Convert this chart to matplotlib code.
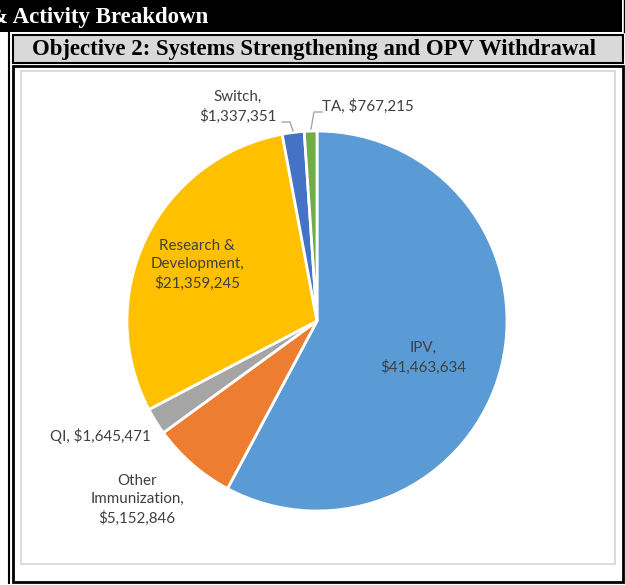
import matplotlib
matplotlib.use("Agg")
import matplotlib.pyplot as plt
from matplotlib.patches import Rectangle

# data
categories = ["IPV", "Other\nImmunization", "QI", "Research &\nDevelopment", "Switch", "TA"]
values = [41463634, 5152846, 1645471, 21359245, 1337351, 767215]
colors = ["#5B9BD5", "#ED7D31", "#A5A5A5", "#FFC000", "#4472C4", "#70AD47"]
header_text = "& Activity Breakdown"
title_text = "Objective 2: Systems Strengthening and OPV Withdrawal"

W, H = 625, 585
fig = plt.figure(figsize=(W / 100, H / 100), dpi=100)

# background / table frame in pixel coords
bg = fig.add_axes([0, 0, 1, 1])
bg.set_xlim(0, W)
bg.set_ylim(H, 0)
bg.axis("off")

bg.add_patch(Rectangle((0, 0), 622, 32, fc="black", ec="none"))
bg.plot([624, 624], [0, 32], color="black", lw=1)
bg.text(208, 17, header_text, color="white", ha="right", va="center",
        family="Liberation Serif", weight="bold", fontsize=16.5)

# double line on left of the table
bg.plot([8.5, 8.5], [32, 583], color="black", lw=1.5)
bg.add_patch(Rectangle((12.5, 34.5), 610, 28.5, fc="#D9D9D9", ec="black", lw=1.5))
bg.text(314, 49, title_text, ha="center", va="center",
        family="Liberation Serif", weight="bold", fontsize=16.4)
bg.add_patch(Rectangle((12.5, 65.5), 610, 516, fc="white", ec="black", lw=2))
bg.add_patch(Rectangle((20.5, 70.5), 594, 493, fc="white", ec="#D9D9D9", lw=1.3))

# pie: center (317, 321), r = 190 px
cx, cy, r = 317, 321, 190
ax = fig.add_axes([(cx - r) / W, (H - cy - r) / H, 2 * r / W, 2 * r / H])
ax.pie(values, colors=colors, startangle=90, counterclock=False, radius=1,
       wedgeprops=dict(edgecolor="white", linewidth=2))
ax.set_xlim(-1, 1)
ax.set_ylim(-1, 1)
ax.set_aspect("equal")


def px(x, y):
    return (x - cx) / r, -(y - cy) / r


def money(v):
    return "${:,}".format(v)


lab = dict(family="Lato", fontsize=10.9, color="#404040", ha="center",
           va="center", linespacing=1.4)
label_pos = [(423, 358), (137, 500), (100, 436), (197, 265), (238, 107), (368, 106)]
for name, v, (x, y) in zip(categories, values, label_pos):
    if name in ("QI", "TA"):
        s = name + ", " + money(v)
    else:
        s = name + ",\n" + money(v)
    ax.text(*px(x, y), s, **lab)

# leader lines
for pts in ([(282, 122), (290, 122), (293, 131)],
            [(322, 112), (314, 112), (311, 129)]):
    xs, ys = zip(*[px(*p) for p in pts])
    ax.plot(xs, ys, color="#A6A6A6", lw=1, clip_on=False)

fig.savefig("out.png", dpi=100)
